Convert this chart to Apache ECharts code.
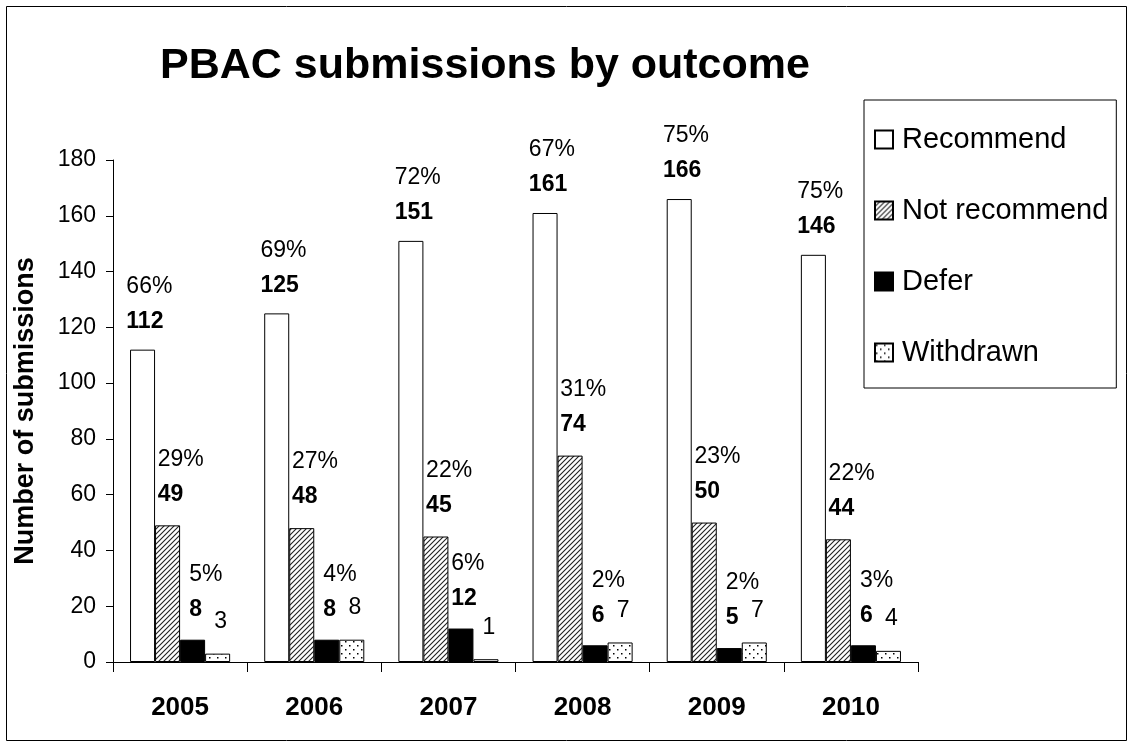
<!DOCTYPE html>
<html>
<head>
<meta charset="utf-8">
<script src="https://cdn.jsdelivr.net/npm/echarts@6/dist/echarts.min.js"></script>
<style>
html,body{margin:0;padding:0;background:#fff;}
#chart{width:1129px;height:747px;}
</style>
</head>
<body>
<div id="chart"></div>
<script>
// ---- data ----
const years = ['2005', '2006', '2007', '2008', '2009', '2010'];
const recommend = [112, 125, 151, 161, 166, 146];
const notRecommend = [49, 48, 45, 74, 50, 44];
const defer = [8, 8, 12, 6, 5, 6];
const withdrawn = [3, 8, 1, 7, 7, 4];
const recommendPct = ['66%', '69%', '72%', '67%', '75%', '75%'];
const notRecommendPct = ['29%', '27%', '22%', '31%', '23%', '22%'];
const deferPct = ['5%', '4%', '6%', '2%', '2%', '3%'];
const yTicks = [0, 20, 40, 60, 80, 100, 120, 140, 160, 180];

// ---- patterns ----
function hatchPattern() {
  const c = document.createElement('canvas');
  c.width = 5; c.height = 5;
  const g = c.getContext('2d');
  g.fillStyle = '#fff'; g.fillRect(0, 0, 5, 5);
  g.strokeStyle = '#222'; g.lineWidth = 1.1;
  g.beginPath();
  g.moveTo(-1, 6); g.lineTo(6, -1);
  g.moveTo(-1, 1); g.lineTo(1, -1);
  g.moveTo(4, 6); g.lineTo(6, 4);
  g.stroke();
  return { image: c, repeat: 'repeat' };
}
function dotPattern() {
  const c = document.createElement('canvas');
  c.width = 8; c.height = 8;
  const g = c.getContext('2d');
  g.fillStyle = '#fff'; g.fillRect(0, 0, 8, 8);
  g.fillStyle = '#000';
  g.fillRect(1, 1, 1.5, 1.5);
  g.fillRect(5, 5, 1.5, 1.5);
  return { image: c, repeat: 'repeat' };
}

const FONT = '"Liberation Sans", Arial, sans-serif';
const DIGIT_W = 12.8;

function build(values) {
  return values.map((v) => ({
    value: v,
    label: { offset: [3 - String(v).length * DIGIT_W / 2, 0] }
  }));
}

function mkSeries(name, values, pcts, fill, bold, dist) {
  return {
    name: name,
    type: 'bar',
    barGap: '0%',
    barCategoryGap: '25.4%',
    itemStyle: { color: fill, borderColor: '#000', borderWidth: 1 },
    emphasis: { disabled: true },
    data: build(values),
    label: {
      show: true,
      position: 'top',
      distance: dist,
      align: 'left',
      verticalAlign: 'bottom',
      fontFamily: FONT,
      formatter: function (p) {
        const v = bold ? '{v|' + p.value + '}' : '{w|' + p.value + '}';
        return pcts ? '{p|' + pcts[p.dataIndex] + '}\n' + v : v;
      },
      rich: {
        p: { fontSize: 23, lineHeight: 46, align: 'left', color: '#000', fontFamily: FONT },
        v: { fontSize: 23, lineHeight: 24, fontWeight: 'bold', align: 'left', color: '#000', fontFamily: FONT },
        w: { fontSize: 23, lineHeight: 24, align: 'left', color: '#000', fontFamily: FONT }
      }
    }
  };
}

const chart = echarts.init(document.getElementById('chart'), null, { renderer: 'canvas' });
chart.setOption({
  animation: false,
  backgroundColor: '#fff',
  textStyle: { fontFamily: FONT, color: '#000' },
  title: {
    text: 'PBAC submissions by outcome',
    left: 480,
    top: 40,
    textAlign: 'center',
    textStyle: { fontSize: 43, fontWeight: 'bold', color: '#000', fontFamily: FONT }
  },
  legend: {
    orient: 'vertical',
    left: 864,
    top: 100,
    padding: [24, 8, 20, 10],
    itemGap: 40,
    itemWidth: 18,
    itemHeight: 18,
    icon: 'rect',
    backgroundColor: '#fff',
    borderColor: '#000',
    borderWidth: 1,
    selectedMode: false,
    textStyle: { fontSize: 29, color: '#000', fontFamily: FONT, lineHeight: 31, padding: [0, 0, 0, 4] },
    data: ['Recommend', 'Not recommend', 'Defer', 'Withdrawn']
  },
  grid: { left: 113, right: 211, top: 160, bottom: 85, containLabel: false },
  xAxis: {
    type: 'category',
    data: years,
    axisLine: { lineStyle: { color: '#000', width: 1 } },
    axisTick: { show: true, length: 10, lineStyle: { color: '#000' } },
    axisLabel: { fontSize: 26, fontWeight: 'bold', color: '#000', margin: 33, fontFamily: FONT },
    splitLine: { show: false }
  },
  yAxis: {
    type: 'value',
    min: yTicks[0],
    max: yTicks[yTicks.length - 1],
    interval: 20,
    name: 'Number of submissions',
    nameLocation: 'middle',
    nameGap: 74,
    nameRotate: 90,
    nameTextStyle: { fontSize: 27, fontWeight: 'bold', color: '#000', fontFamily: FONT },
    axisLine: { show: true, lineStyle: { color: '#000', width: 1 } },
    axisTick: { show: true, inside: false, length: 7, lineStyle: { color: '#000' } },
    axisLabel: { fontSize: 23, color: '#000', margin: 17, fontFamily: FONT },
    splitLine: { show: false }
  },
  graphic: [{
    type: 'rect',
    shape: { x: 6.5, y: 6.5, width: 1120, height: 734 },
    style: { fill: 'none', stroke: '#000', lineWidth: 1 },
    silent: true,
    z: 100
  }],
  series: [
    mkSeries('Recommend', recommend, recommendPct, '#fff', true, 16),
    mkSeries('Not recommend', notRecommend, notRecommendPct, hatchPattern(), true, 19),
    mkSeries('Defer', defer, deferPct, '#000', true, 18),
    mkSeries('Withdrawn', withdrawn, null, dotPattern(), false, 20)
  ]
});
</script>
</body>
</html>
